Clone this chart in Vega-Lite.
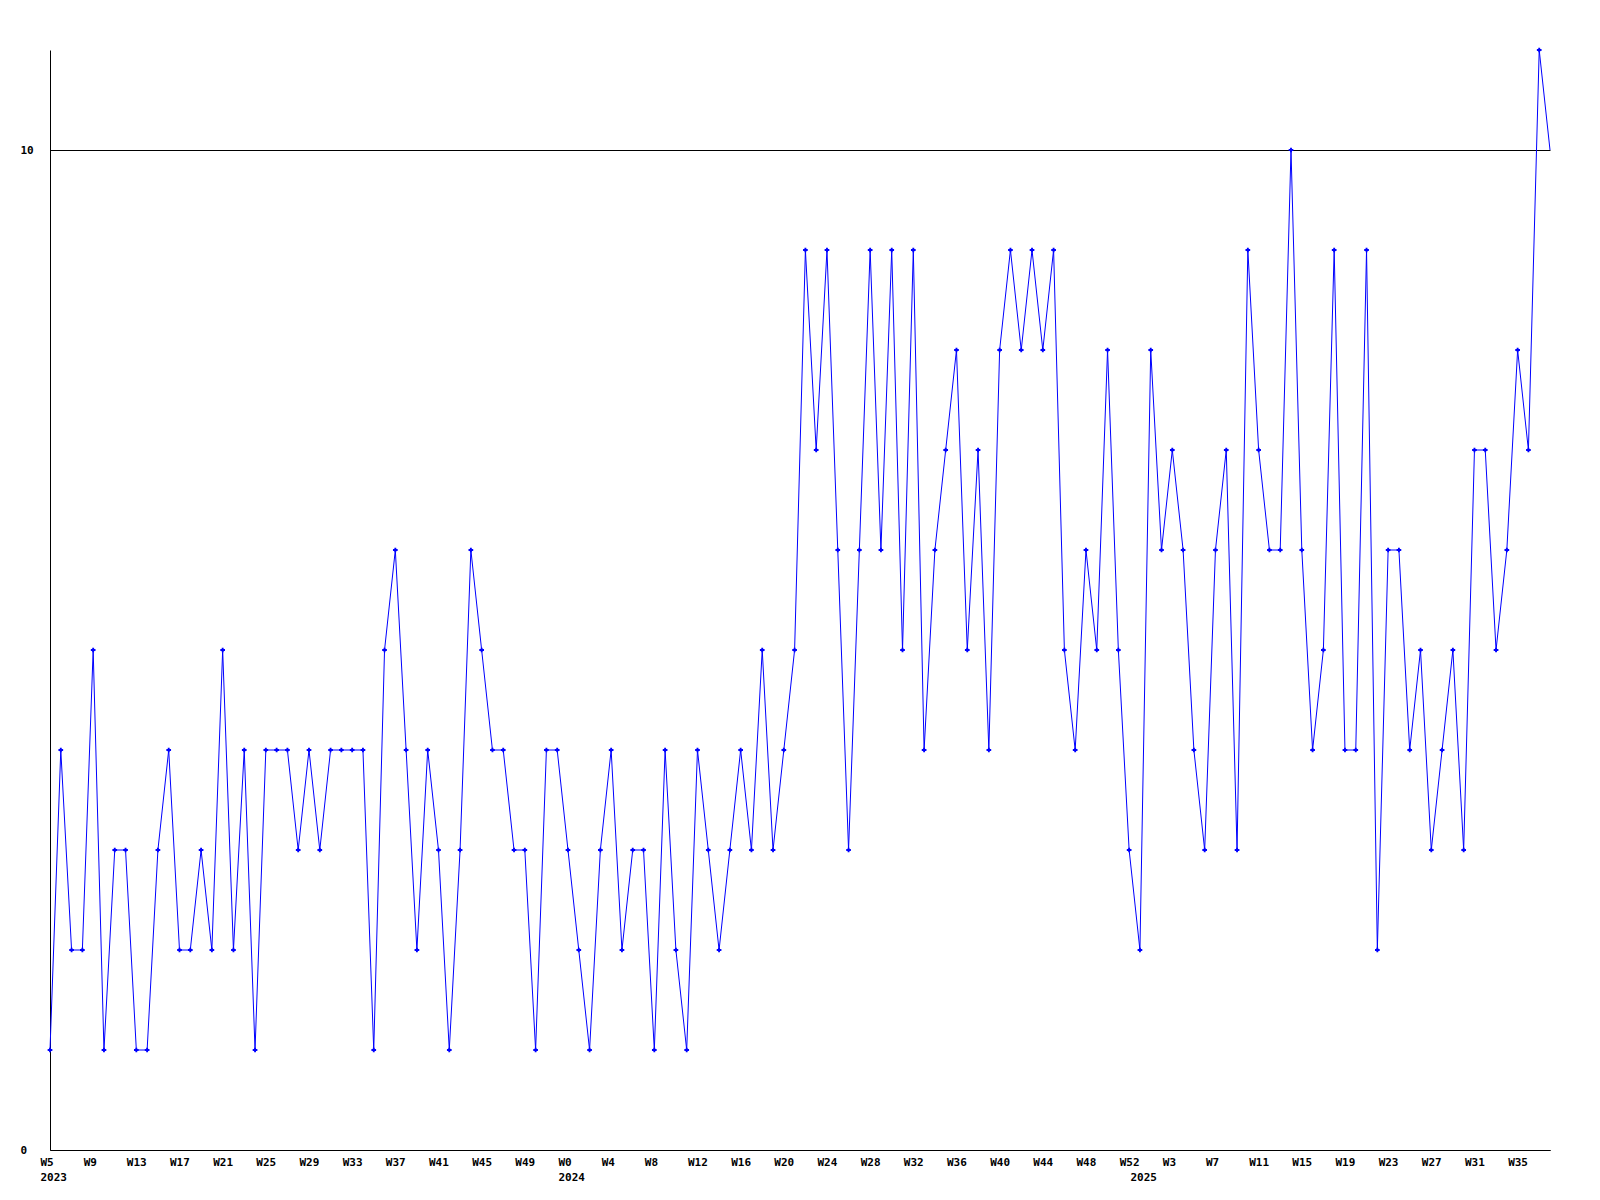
{
  "$schema": "https://vega.github.io/schema/vega-lite/v6.json",
  "width": 1500,
  "height": 1100,
  "autosize": {"type": "none"},
  "padding": {"left": 50, "top": 50, "right": 50, "bottom": 50},
  "background": "white",
  "config": {
    "view": {"stroke": null},
    "axis": {
      "labelFont": "DejaVu Sans Mono",
      "labelFontWeight": "bold",
      "labelFontSize": 11,
      "labelColor": "black",
      "domainColor": "black",
      "domainWidth": 1,
      "ticks": false,
      "title": null
    }
  },
  "data": {
    "values": [
      {"i":0,"v":1},{"i":1,"v":4},{"i":2,"v":2},{"i":3,"v":2},{"i":4,"v":5},{"i":5,"v":1},{"i":6,"v":3},{"i":7,"v":3},{"i":8,"v":1},{"i":9,"v":1},
      {"i":10,"v":3},{"i":11,"v":4},{"i":12,"v":2},{"i":13,"v":2},{"i":14,"v":3},{"i":15,"v":2},{"i":16,"v":5},{"i":17,"v":2},{"i":18,"v":4},{"i":19,"v":1},
      {"i":20,"v":4},{"i":21,"v":4},{"i":22,"v":4},{"i":23,"v":3},{"i":24,"v":4},{"i":25,"v":3},{"i":26,"v":4},{"i":27,"v":4},{"i":28,"v":4},{"i":29,"v":4},
      {"i":30,"v":1},{"i":31,"v":5},{"i":32,"v":6},{"i":33,"v":4},{"i":34,"v":2},{"i":35,"v":4},{"i":36,"v":3},{"i":37,"v":1},{"i":38,"v":3},{"i":39,"v":6},
      {"i":40,"v":5},{"i":41,"v":4},{"i":42,"v":4},{"i":43,"v":3},{"i":44,"v":3},{"i":45,"v":1},{"i":46,"v":4},{"i":47,"v":4},{"i":48,"v":3},{"i":49,"v":2},
      {"i":50,"v":1},{"i":51,"v":3},{"i":52,"v":4},{"i":53,"v":2},{"i":54,"v":3},{"i":55,"v":3},{"i":56,"v":1},{"i":57,"v":4},{"i":58,"v":2},{"i":59,"v":1},
      {"i":60,"v":4},{"i":61,"v":3},{"i":62,"v":2},{"i":63,"v":3},{"i":64,"v":4},{"i":65,"v":3},{"i":66,"v":5},{"i":67,"v":3},{"i":68,"v":4},{"i":69,"v":5},
      {"i":70,"v":9},{"i":71,"v":7},{"i":72,"v":9},{"i":73,"v":6},{"i":74,"v":3},{"i":75,"v":6},{"i":76,"v":9},{"i":77,"v":6},{"i":78,"v":9},{"i":79,"v":5},
      {"i":80,"v":9},{"i":81,"v":4},{"i":82,"v":6},{"i":83,"v":7},{"i":84,"v":8},{"i":85,"v":5},{"i":86,"v":7},{"i":87,"v":4},{"i":88,"v":8},{"i":89,"v":9},
      {"i":90,"v":8},{"i":91,"v":9},{"i":92,"v":8},{"i":93,"v":9},{"i":94,"v":5},{"i":95,"v":4},{"i":96,"v":6},{"i":97,"v":5},{"i":98,"v":8},{"i":99,"v":5},
      {"i":100,"v":3},{"i":101,"v":2},{"i":102,"v":8},{"i":103,"v":6},{"i":104,"v":7},{"i":105,"v":6},{"i":106,"v":4},{"i":107,"v":3},{"i":108,"v":6},{"i":109,"v":7},
      {"i":110,"v":3},{"i":111,"v":9},{"i":112,"v":7},{"i":113,"v":6},{"i":114,"v":6},{"i":115,"v":10},{"i":116,"v":6},{"i":117,"v":4},{"i":118,"v":5},{"i":119,"v":9},
      {"i":120,"v":4},{"i":121,"v":4},{"i":122,"v":9},{"i":123,"v":2},{"i":124,"v":6},{"i":125,"v":6},{"i":126,"v":4},{"i":127,"v":5},{"i":128,"v":3},{"i":129,"v":4},
      {"i":130,"v":5},{"i":131,"v":3},{"i":132,"v":7},{"i":133,"v":7},{"i":134,"v":5},{"i":135,"v":6},{"i":136,"v":8},{"i":137,"v":7},{"i":138,"v":11},{"i":139,"v":10}
    ]
  },
  "encoding": {
    "x": {
      "field": "i",
      "type": "quantitative",
      "scale": {"domain": [0, 139], "nice": false, "zero": false},
      "axis": {
        "values": [0,4,8,12,16,20,24,28,32,36,40,44,48,52,56,60,64,68,72,76,80,84,88,92,96,100,101,104,108,112,116,120,124,128,132,136],
        "labelExpr": "datum.value == 101 ? [' ', '2025'] : (datum.value < 48 ? (datum.value == 0 ? ['W5', '2023'] : 'W' + (datum.value + 5)) : (datum.value < 101 ? (datum.value == 48 ? ['W0', '2024'] : 'W' + (datum.value - 48)) : 'W' + (datum.value - 101)))",
        "labelAlign": "left",
        "labelBaseline": "top",
        "labelOffset": -10,
        "labelPadding": 6,
        "labelLineHeight": 15,
        "labelOverlap": false,
        "labelFlush": false,
        "grid": false
      }
    },
    "y": {
      "field": "v",
      "type": "quantitative",
      "scale": {"domain": [0, 11], "nice": false, "zero": true},
      "axis": {
        "values": [0, 10],
        "grid": true,
        "gridColor": "black",
        "gridOpacity": 1,
        "gridWidth": 1,
        "labelAlign": "left",
        "labelBaseline": "middle",
        "labelPadding": 30,
        "labelFlush": false
      }
    }
  },
  "layer": [
    {
      "mark": {"type": "line", "color": "#0000ff", "strokeWidth": 1}
    },
    {
      "transform": [{"filter": "datum.i < 139"}],
      "mark": {"type": "point", "shape": "cross", "filled": true, "color": "#0000ff", "size": 22, "opacity": 1}
    }
  ]
}
